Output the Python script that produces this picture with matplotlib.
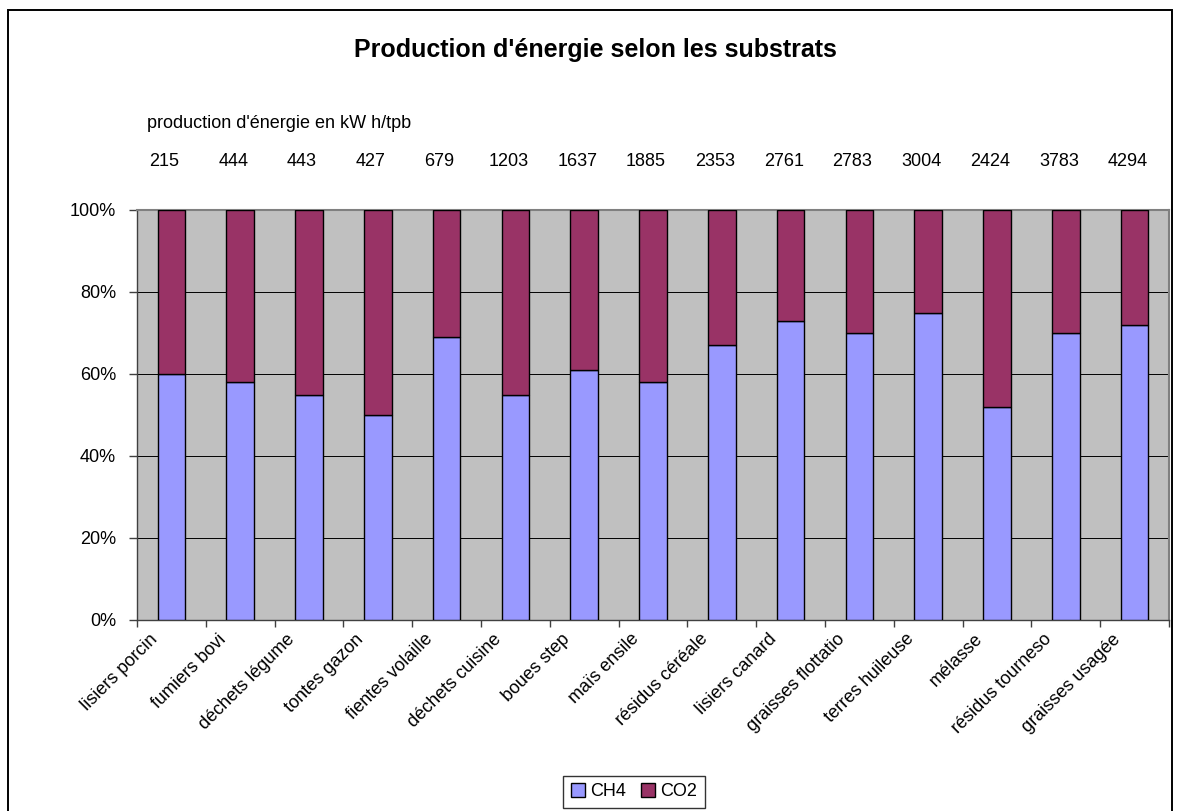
import numpy as np
import matplotlib.pyplot as plt
from matplotlib.patches import Rectangle

plt.rcParams['font.family'] = ['Liberation Sans', 'DejaVu Sans']

substrats = ['lisiers porcin', 'fumiers bovi', 'déchets légume', 'tontes gazon',
             'fientes volaille', 'déchets cuisine', 'boues step', 'maïs ensile',
             'résidus céréale', 'lisiers canard', 'graisses flottatio',
             'terres huileuse', 'mélasse', 'résidus tourneso', 'graisses usagée']
ch4 = [60, 58, 55, 50, 69, 55, 61, 58, 67, 73, 70, 75, 52, 70, 72]
co2 = [40, 42, 45, 50, 31, 45, 39, 42, 33, 27, 30, 25, 48, 30, 28]
energie = [215, 444, 443, 427, 679, 1203, 1637, 1885, 2353, 2761, 2783, 3004,
           2424, 3783, 4294]

W, H = 1181, 811
fig = plt.figure(figsize=(W / 100, H / 100), dpi=100)
fig.patch.set_facecolor('white')

# cadre du graphique
fig.patches.append(Rectangle((8 / W, -0.02), (1172 - 8) / W, 1.02 - 10 / H,
                             transform=fig.transFigure, fill=False,
                             edgecolor='black', linewidth=1.4))

ax = fig.add_axes([137 / W, 1 - 620 / H, (1169 - 137) / W, (620 - 210) / H])
ax.set_facecolor('#C0C0C0')

x = np.arange(len(substrats))
tot = np.array(ch4, float) + np.array(co2, float)
p_ch4 = np.array(ch4) / tot
p_co2 = np.array(co2) / tot

ax.bar(x, p_ch4, width=0.4, color='#9999FF', edgecolor='black', linewidth=1, label='CH4', zorder=3)
ax.bar(x, p_co2, width=0.4, bottom=p_ch4, color='#993366', edgecolor='black', linewidth=1,
       label='CO2', zorder=3)

ax.set_xlim(-0.5, len(substrats) - 0.5)
ax.set_ylim(0, 1)
ax.set_yticks(np.arange(0, 1.01, 0.2))
ax.set_yticklabels(['%d%%' % round(v * 100) for v in np.arange(0, 1.01, 0.2)], fontsize=13)
ax.yaxis.grid(True, color='black', linewidth=0.7, zorder=1)
ax.set_axisbelow(True)
ax.set_xticks(np.arange(-0.5, len(substrats), 1))
ax.set_xticklabels([])
ax.tick_params(axis='y', length=6, width=1, color='#404040', pad=9)
ax.tick_params(axis='x', length=5, width=1, color='#404040')

for s in ['left', 'bottom']:
    ax.spines[s].set_color('#404040')
    ax.spines[s].set_linewidth(1)
for s in ['top', 'right']:
    ax.spines[s].set_color('#808080')
    ax.spines[s].set_linewidth(1.5)

# étiquettes inclinées sous l'axe
for i, lab in enumerate(substrats):
    ax.annotate(lab, xy=(i, 0), xycoords='data', xytext=(-12, -12),
                textcoords='offset points', rotation=45, rotation_mode='anchor',
                ha='right', va='center', fontsize=13, annotation_clip=False)

# production d'énergie au-dessus des barres
for i, e in enumerate(energie):
    ax.annotate(str(e), xy=(i, 1), xycoords='data', xytext=(-5, 35),
                textcoords='offset points', ha='center', va='center', fontsize=13,
                annotation_clip=False)

fig.text(147 / W, 1 - 124 / H, "production d'énergie en kW h/tpb", fontsize=13,
         ha='left', va='center')
fig.text(595 / W, 1 - 50 / H, "Production d'énergie selon les substrats",
         fontsize=18, fontweight='bold', ha='center', va='center')

leg = fig.legend(loc='upper center', bbox_to_anchor=(634 / W, 1 - 776 / H), ncol=2,
                 fontsize=13, frameon=True, fancybox=False, edgecolor='black',
                 handlelength=0.8, handleheight=0.8, handletextpad=0.3,
                 columnspacing=0.8, borderpad=0.4, borderaxespad=0)
leg.get_frame().set_linewidth(1)

fig.savefig('out.png', dpi=100)
